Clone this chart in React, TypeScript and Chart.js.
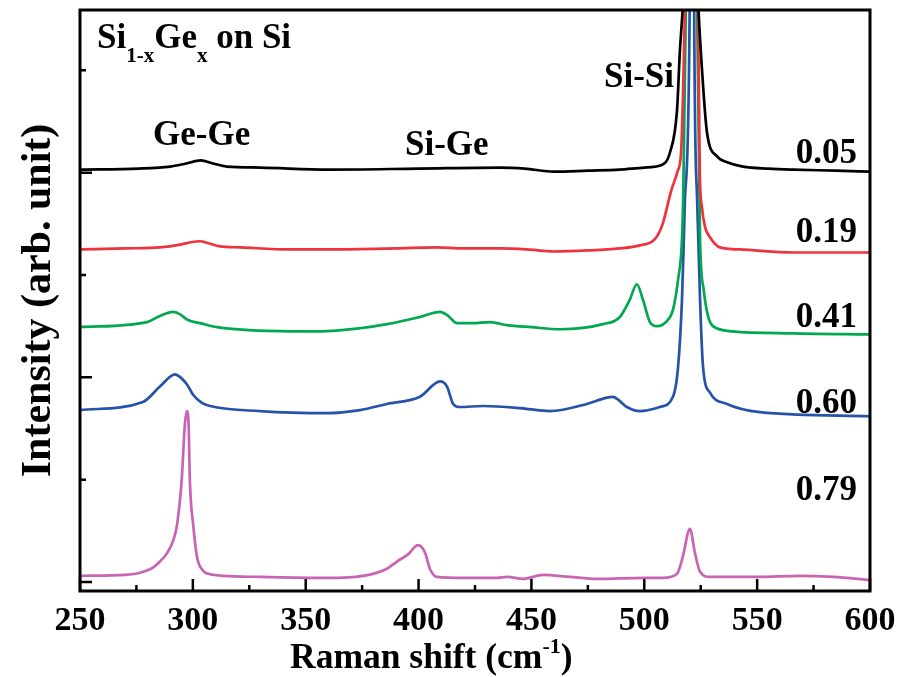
import React, { useEffect, useRef } from 'react';
import { Chart, registerables } from 'chart.js';

Chart.register(...registerables);

const FONT = '"Liberation Serif", "Times New Roman", serif';

// ---- Data (Raman shift in cm^-1, intensity in arbitrary offset units) ----
const x005 = [250, 276, 290, 297, 303.5, 309, 315, 330, 360, 400, 436, 447, 460, 475, 489, 500, 507, 511.4, 514.5, 515.8, 517, 520.5, 524, 525.5, 527.8, 532.2, 537, 543.7, 555, 566, 585, 600];
const y005 = [4.03, 4.04, 4.06, 4.09, 4.12, 4.09, 4.06, 4.05, 4.03, 4.04, 4.05, 4.04, 4.01, 4.02, 4.03, 4.05, 4.07, 4.2, 4.61, 5.2, 5.6, 7.5, 5.6, 5.03, 4.39, 4.16, 4.1, 4.06, 4.04, 4.03, 4.02, 4.01];

const x019 = [250, 270, 285.4, 295, 299, 303.2, 307, 312, 321, 343, 361, 390, 408, 420, 436, 448, 460, 475, 489, 498, 504.7, 508, 512, 514.7, 516.3, 517.1, 518, 521, 523.8, 524.6, 525.5, 526.9, 529.1, 533.5, 542.4, 566, 600];
const y019 = [3.25, 3.26, 3.27, 3.30, 3.32, 3.33, 3.31, 3.28, 3.27, 3.25, 3.25, 3.26, 3.27, 3.26, 3.26, 3.25, 3.23, 3.24, 3.26, 3.29, 3.35, 3.49, 3.83, 4.01, 4.2, 4.71, 5.6, 9, 5.6, 4.0, 3.67, 3.47, 3.37, 3.27, 3.25, 3.22, 3.22];

const x041 = [250, 279.7, 285.4, 291.2, 294, 297.8, 303.2, 310.7, 326.6, 356.3, 374, 386, 400.6, 409.5, 412.6, 417, 424, 431.6, 439.2, 450, 462.6, 481.7, 489.2, 493.6, 496.7, 499.4, 502.5, 505.6, 510, 512.7, 515, 516.7, 517.3, 518.4, 521, 523.4, 524.7, 526.3, 528, 530.4, 539, 566, 600];
const y041 = [2.49, 2.54, 2.60, 2.64, 2.62, 2.56, 2.53, 2.49, 2.46, 2.45, 2.48, 2.52, 2.59, 2.64, 2.61, 2.53, 2.53, 2.54, 2.51, 2.49, 2.47, 2.52, 2.59, 2.76, 2.91, 2.76, 2.54, 2.50, 2.55, 2.66, 2.96, 3.35, 3.83, 5.6, 12, 5.6, 3.35, 2.86, 2.62, 2.50, 2.45, 2.43, 2.42];

const x060 = [250, 277.9, 285.4, 292.1, 294.5, 297.4, 300.1, 304, 307.6, 329.7, 359.4, 374, 386, 400.6, 409.5, 412.6, 415.3, 418.3, 428.5, 444.9, 458.2, 474.6, 483, 486.1, 488.5, 492.3, 498, 506.9, 512.7, 515, 516.7, 517.6, 518, 520.1, 521.2, 522.1, 523.4, 524.7, 526, 529.1, 536.6, 551.2, 600];
const y060 = [1.68, 1.76, 1.91, 2.03, 2.0, 1.93, 1.83, 1.75, 1.72, 1.67, 1.65, 1.68, 1.74, 1.81, 1.96, 1.91, 1.74, 1.71, 1.72, 1.70, 1.67, 1.74, 1.80, 1.81, 1.78, 1.71, 1.67, 1.71, 1.81, 2.11, 2.76, 3.41, 3.74, 5.6, 14, 5.6, 3.74, 2.76, 2.11, 1.85, 1.74, 1.66, 1.62];

const x079 = [250, 270, 276.6, 282.3, 285.4, 288.5, 291.2, 293, 295, 296.5, 297.4, 298.1, 298.7, 300.2, 301.8, 304.5, 307, 313.4, 329.7, 359.4, 375.4, 386, 390.4, 395.3, 399.7, 402.8, 405, 408.1, 420, 434.7, 439.2, 446.3, 455.1, 467, 479, 500, 508.3, 514.5, 517.1, 520.2, 522.4, 524.7, 529.1, 549.9, 569, 583.6, 600];
const y079 = [0.06, 0.07, 0.09, 0.14, 0.20, 0.28, 0.40, 0.56, 0.98, 1.55, 1.67, 1.55, 0.98, 0.55, 0.25, 0.11, 0.08, 0.06, 0.05, 0.04, 0.06, 0.13, 0.20, 0.27, 0.36, 0.29, 0.13, 0.05, 0.04, 0.04, 0.05, 0.03, 0.07, 0.05, 0.03, 0.04, 0.04, 0.08, 0.25, 0.52, 0.29, 0.10, 0.05, 0.05, 0.06, 0.05, 0.02];

const seriesLabels = ['0.05', '0.19', '0.41', '0.60', '0.79'];
const seriesColors = ['#000000', '#ee3340', '#00a84f', '#2653a8', '#c864b4'];
const seriesX = [x005, x019, x041, x060, x079];
const seriesY = [y005, y019, y041, y060, y079];

const xTickValues = [250, 275, 300, 325, 350, 375, 400, 425, 450, 475, 500, 525, 550, 575, 600];
const yTickValues = [0, 1, 2, 3, 4, 5];

const X_MIN = 250;
const X_MAX = 600;
const Y_MIN = -0.088;
const Y_MAX = 5.59;

type Part = { t: string; size: number; dy: number };

function drawParts(ctx: CanvasRenderingContext2D, parts: Part[], x: number, y: number, align: 'left' | 'right') {
  ctx.textAlign = 'left';
  ctx.textBaseline = 'alphabetic';
  let total = 0;
  const widths = parts.map((p) => {
    ctx.font = `bold ${p.size}px ${FONT}`;
    const w = ctx.measureText(p.t).width;
    total += w;
    return w;
  });
  let cx = align === 'right' ? x - total : x;
  parts.forEach((p, i) => {
    ctx.font = `bold ${p.size}px ${FONT}`;
    ctx.fillText(p.t, cx, y + p.dy);
    cx += widths[i];
  });
}

const decorPlugin = {
  id: 'decor',
  afterDraw(chart: any) {
    const { ctx, chartArea: a, scales } = chart;
    ctx.save();
    ctx.strokeStyle = '#000';
    ctx.lineWidth = 3;
    ctx.strokeRect(a.left, a.top, a.right - a.left, a.bottom - a.top);
    ctx.lineWidth = 2.5;
    ctx.beginPath();
    scales.x.ticks.forEach((t: any) => {
      const px = scales.x.getPixelForValue(t.value);
      const len = t.value % 50 === 0 ? 12 : 6;
      ctx.moveTo(px, a.bottom);
      ctx.lineTo(px, a.bottom - len);
    });
    scales.y.ticks.forEach((t: any) => {
      const py = scales.y.getPixelForValue(t.value);
      const len = t.value % 2 === 0 ? 12 : 6;
      ctx.moveTo(a.left, py);
      ctx.lineTo(a.left + len, py);
    });
    ctx.stroke();

    ctx.fillStyle = '#000';
    // title with subscripts
    drawParts(ctx, [
      { t: 'Si', size: 35, dy: 0 },
      { t: '1-x', size: 21, dy: 14 },
      { t: 'Ge', size: 35, dy: 0 },
      { t: 'x', size: 21, dy: 14 },
      { t: ' on Si', size: 35, dy: 0 },
    ], a.left + 17, a.top + 38, 'left');

    const big = (t: string, x: number, y: number, align: 'left' | 'right') =>
      drawParts(ctx, [{ t, size: 35, dy: 0 }], x, y, align);
    big('Ge-Ge', 153, 145, 'left');
    big('Si-Ge', 405, 155, 'left');
    big('Si-Si', 674, 87, 'right');
    const labelBase = [163, 242, 327, 413, 500];
    seriesLabels.forEach((s, i) => big(s, 857, labelBase[i], 'right'));

    // x axis title with superscript
    drawParts(ctx, [
      { t: 'Raman shift (cm', size: 35.5, dy: 0 },
      { t: '-1', size: 22, dy: -15 },
      { t: ')', size: 35.5, dy: 0 },
    ], 290, 668, 'left');
    ctx.restore();
  },
};

export default function App() {
  const ref = useRef<HTMLCanvasElement>(null);
  useEffect(() => {
    if (!ref.current) return;
    const datasets = seriesLabels.map((label, i) => ({
      label,
      data: seriesX[i].map((x, j) => ({ x, y: seriesY[i][j] })),
      borderColor: seriesColors[i],
      backgroundColor: seriesColors[i],
      borderWidth: 2.7,
      pointRadius: 0,
      cubicInterpolationMode: 'monotone' as const,
      fill: false,
    }));
    const chart = new Chart(ref.current, {
      type: 'line',
      data: { datasets },
      plugins: [decorPlugin],
      options: {
        animation: false,
        responsive: true,
        maintainAspectRatio: false,
        layout: { padding: { top: 10, right: 43, left: 0, bottom: 0 } },
        plugins: { legend: { display: false }, tooltip: { enabled: false } },
        scales: {
          x: {
            type: 'linear',
            min: X_MIN,
            max: X_MAX,
            afterBuildTicks: (scale: any) => {
              scale.ticks = xTickValues.map((v) => ({ value: v }));
            },
            afterFit: (scale: any) => {
              scale.height = 86;
            },
            grid: { display: false, drawTicks: false },
            border: { display: false },
            ticks: {
              autoSkip: false,
              maxRotation: 0,
              padding: 10,
              color: '#000',
              font: { family: FONT, size: 34, weight: 'bold' },
              callback: (v: any) => (Number(v) % 50 === 0 ? String(v) : ''),
            },
            title: { display: false },
          },
          y: {
            type: 'linear',
            min: Y_MIN,
            max: Y_MAX,
            afterBuildTicks: (scale: any) => {
              scale.ticks = yTickValues.map((v) => ({ value: v }));
            },
            afterFit: (scale: any) => {
              scale.width = 80;
            },
            grid: { display: false, drawTicks: false },
            border: { display: false },
            ticks: { display: false },
            title: {
              display: true,
              text: 'Intensity (arb. unit)',
              color: '#000',
              font: { family: FONT, size: 42, weight: 'bold' },
              padding: { top: 14, bottom: 0 },
            },
          },
        },
      },
    });
    return () => chart.destroy();
  }, []);
  return (
    <div style={{ position: 'fixed', left: 0, top: 0, width: 913, height: 677, background: '#fff' }}>
      <canvas ref={ref} />
    </div>
  );
}
